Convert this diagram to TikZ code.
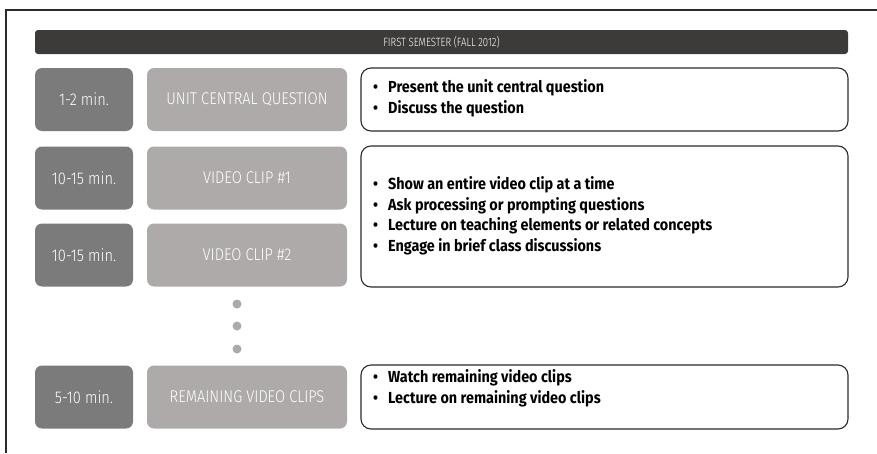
\documentclass[tikz,border=0pt]{standalone}
\usepackage{fontspec}
\setmainfont{Fira Sans}
\newfontfamily\condfont[FakeStretch=0.9]{Fira Sans}
\newfontfamily\condlight[FakeStretch=0.86]{Fira Sans Light}
\newfontfamily\headfont[FakeStretch=0.8]{Fira Sans Light}
\definecolor{headbg}{HTML}{3C3B39}
\definecolor{darkbox}{HTML}{7B7B7B}
\definecolor{lightbox}{HTML}{AEAAAA}
\definecolor{framecol}{HTML}{2A2A2A}
\tikzset{
  timebox/.style={fill=darkbox, rounded corners=7pt, minimum width=98pt, minimum height=63pt, inner sep=0pt,
    text=white, font=\condlight\fontsize{17}{20}\selectfont},
  labelbox/.style={fill=lightbox, rounded corners=7pt, minimum width=200pt, minimum height=63pt, inner sep=0pt,
    text=white, font=\condlight\fontsize{17}{20}\selectfont},
  infobox/.style={draw=framecol, line width=1.1pt, rounded corners=10pt, minimum width=487pt, inner sep=0pt},
  bullettext/.style={anchor=west, align=left, inner sep=0pt, font=\condfont\bfseries\fontsize{16}{20.5}\selectfont, text=black},
  dotmark/.style={circle, fill=lightbox, minimum size=9pt, inner sep=0pt},
}
\newcommand{\bl}[1]{\makebox[15pt][l]{\textbullet}#1}
\begin{document}
\begin{tikzpicture}[x=1pt,y=-1pt]
\useasboundingbox (0,0) rectangle (877,453);
\coordinate (fa) at (877,10);
\coordinate (fb) at (6,10);
\coordinate (fc) at (6,453);
\draw[framecol, line width=1.2pt] (fa) -- (fb) -- (fc);
% header
\node[fill=headbg, rounded corners=3pt, minimum width=813pt, minimum height=24pt, inner sep=0pt,
  text=white, font=\headfont\fontsize{12}{14}\selectfont] (head) at (441.5,42) {FIRST SEMESTER (FALL 2012)};
% row 1
\node[timebox] (t1) at (84,99.5) {1-2 min.};
\node[labelbox] (l1) at (247,99.5) {UNIT CENTRAL QUESTION};
\node[infobox, minimum height=63pt] (i1) at (604.5,99.5) {};
\node[bullettext] (b1) at (373,98.5) {\bl{Present the unit central question}\\ \bl{Discuss the question}};
% row 2,3
\node[timebox] (t2) at (84,178) {10-15 min.};
\node[labelbox] (l2) at (247,178) {VIDEO CLIP \#1};
\node[timebox] (t3) at (84,255) {10-15 min.};
\node[labelbox] (l3) at (247,255) {VIDEO CLIP \#2};
\node[infobox, minimum height=141pt] (i2) at (604.5,216.5) {};
\node[bullettext] (b2) at (373,216) {\bl{Show an entire video clip at a time}\\ \bl{Ask processing or prompting questions}\\ \bl{Lecture on teaching elements or related concepts}\\ \bl{Engage in brief class discussions}};
% dots
\node[dotmark] (d1) at (237,304) {};
\node[dotmark] (d2) at (237,326) {};
\node[dotmark] (d3) at (237,349) {};
% row 4
\node[timebox] (t4) at (84,397) {5-10 min.};
\node[labelbox] (l4) at (247,397) {REMAINING VIDEO CLIPS};
\node[infobox, minimum height=64pt] (i4) at (604.5,397) {};
\node[bullettext] (b4) at (373,388.5) {\bl{Watch remaining video clips}\\ \bl{Lecture on remaining video clips}};
\end{tikzpicture}
\end{document}
